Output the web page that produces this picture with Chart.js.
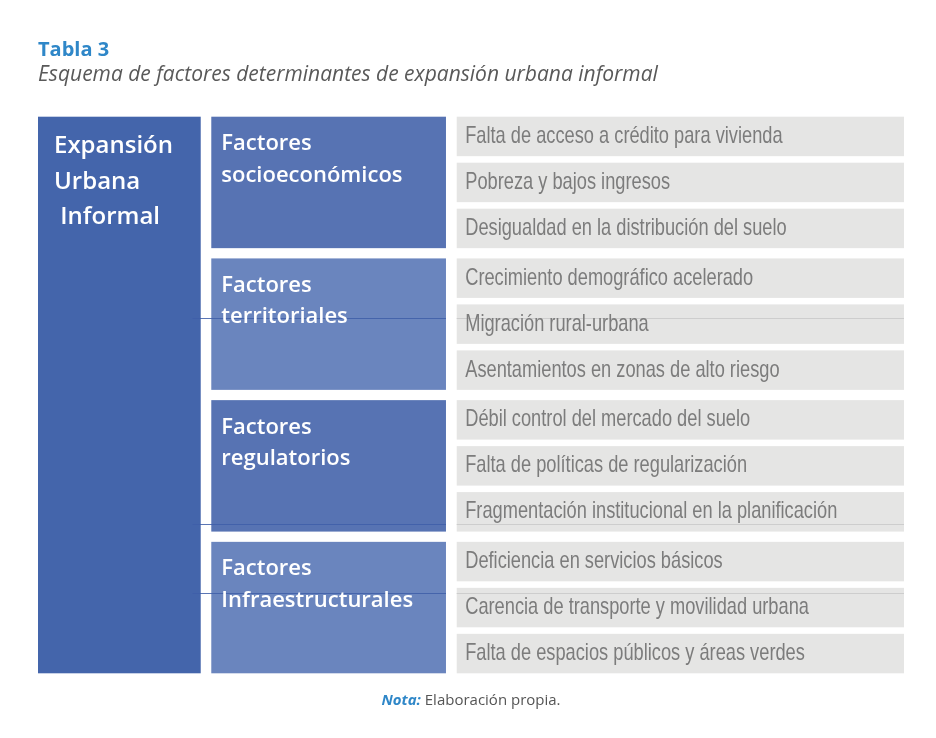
<!DOCTYPE html>
<html lang="es">
<head>
<meta charset="utf-8">
<title>Tabla 3</title>
<script src="https://cdn.jsdelivr.net/npm/chart.js@4.4.1/dist/chart.umd.min.js"></script>
<style>
  html, body { margin: 0; padding: 0; background: #fff; }
  #wrap { width: 936px; height: 738px; }
</style>
</head>
<body>
<div id="wrap"><canvas id="tabla" width="936" height="738"></canvas></div>
<script>
// --- contenido de la tabla ---
const tableTitle = 'Tabla 3';
const tableSubtitle = 'Esquema de factores determinantes de expansión urbana informal';
const rootLabel = ['Expansión', 'Urbana', ' Informal'];
const groupLabels = [
  ['Factores', 'socioeconómicos'],
  ['Factores', 'territoriales'],
  ['Factores', 'regulatorios'],
  ['Factores', 'Infraestructurales']
];
const factorLabels = [
  ['Falta de acceso a crédito para vivienda', 'Pobreza y bajos ingresos', 'Desigualdad en la distribución del suelo'],
  ['Crecimiento demográfico acelerado', 'Migración rural-urbana', 'Asentamientos en zonas de alto riesgo'],
  ['Débil control del mercado del suelo', 'Falta de políticas de regularización', 'Fragmentación institucional en la planificación'],
  ['Deficiencia en servicios básicos', 'Carencia de transporte y movilidad urbana', 'Falta de espacios públicos y áreas verdes']
];
const noteLabel = 'Nota:';
const noteText = 'Elaboración propia.';

// --- layout (rows in y-scale units, columns in % of table width) ---
const ROW_GAP = 0.165;
const GROUP_GAP = 0.26;
const COLS = { root: [0, 18.79], group: [20.01, 47.11], factor: [48.35, 100] };
const groupColors = ['#5773b3', '#6a85be', '#5773b3', '#6a85be'];
const rootColor = '#4465ab';
const cellColor = '#e5e5e4';
// faint seams visible in the source image: [group, row, fraction of row]
const seams = [[1, 1, 0.34], [2, 2, 0.81], [3, 1, 0.13]];

const rowsPerGroup = factorLabels[0].length;
const groupSpan = rowsPerGroup + (rowsPerGroup - 1) * ROW_GAP;
const rowStart = (g, i) => g * (groupSpan + GROUP_GAP) + i * (1 + ROW_GAP);
const totalSpan = rowStart(factorLabels.length - 1, rowsPerGroup - 1) + 1;

const tablePlugin = {
  id: 'tablePlugin',
  beforeDatasetsDraw(chart) {
    const { ctx, chartArea } = chart;
    const xs = chart.scales.x, ys = chart.scales.y;
    const box = (col, y0, y1, color) => {
      const l = xs.getPixelForValue(col[0]), r = xs.getPixelForValue(col[1]);
      const t = ys.getPixelForValue(y0), b = ys.getPixelForValue(y1);
      ctx.fillStyle = color;
      ctx.fillRect(l, t, r - l, b - t);
      return { l, t, r, b };
    };
    ctx.save();
    ctx.textBaseline = 'alphabetic';
    ctx.textAlign = 'left';

    // title + subtitle
    ctx.fillStyle = '#2f87c8';
    ctx.font = 'bold 20px "Open Sans"';
    ctx.fillText(tableTitle, chartArea.left, chartArea.top - 61);
    ctx.fillStyle = '#595959';
    ctx.font = 'italic 21px "Open Sans"';
    ctx.fillText(tableSubtitle, chartArea.left, chartArea.top - 36);

    // boxes first
    const root = box(COLS.root, 0, totalSpan, rootColor);
    const groupBoxes = [], cellBoxes = [];
    factorLabels.forEach((rows, g) => {
      groupBoxes.push(box(COLS.group, rowStart(g, 0), rowStart(g, rowsPerGroup - 1) + 1, groupColors[g]));
      rows.forEach((s, i) => cellBoxes.push([s, box(COLS.factor, rowStart(g, i), rowStart(g, i) + 1, cellColor)]));
    });

    // seams
    ctx.lineWidth = 1;
    seams.forEach(([g, i, f]) => {
      const yy = Math.round(ys.getPixelForValue(rowStart(g, i) + f)) + 0.5;
      ctx.strokeStyle = 'rgba(62, 94, 168, 0.85)';
      ctx.beginPath();
      ctx.moveTo(xs.getPixelForValue(COLS.root[1]) - 8, yy);
      ctx.lineTo(xs.getPixelForValue(COLS.group[1]), yy);
      ctx.stroke();
      ctx.strokeStyle = '#cdcdcd';
      ctx.beginPath();
      ctx.moveTo(xs.getPixelForValue(COLS.factor[0]), yy);
      ctx.lineTo(xs.getPixelForValue(COLS.factor[1]), yy);
      ctx.stroke();
    });

    // labels
    ctx.fillStyle = '#ffffff';
    ctx.font = '600 24px "Open Sans"';
    rootLabel.forEach((s, i) => ctx.fillText(s, root.l + 16, root.t + 36.6 + i * 35.3));

    ctx.font = '600 22px "Open Sans"';
    groupBoxes.forEach((gb, g) => {
      groupLabels[g].forEach((s, i) => ctx.fillText(s, gb.l + 10, gb.t + 33.5 + i * 31.5));
    });

    cellBoxes.forEach(([s, c]) => {
      ctx.save();
      ctx.fillStyle = '#7c7c7c';
      ctx.font = '24px "Liberation Sans"';
      ctx.translate(c.l + 8.5, c.t + 26.3);
      ctx.scale(0.76, 1);
      ctx.fillText(s, 0, 0);
      ctx.restore();
    });

    // note
    ctx.font = 'bold italic 15px "Open Sans"';
    const w1 = ctx.measureText(noteLabel + ' ').width;
    ctx.font = '15px "Open Sans"';
    const w2 = ctx.measureText(noteText).width;
    const nx = (chartArea.left + chartArea.right) / 2 - (w1 + w2) / 2;
    const ny = chartArea.bottom + 32;
    ctx.fillStyle = '#2f87c8';
    ctx.font = 'bold italic 15px "Open Sans"';
    ctx.fillText(noteLabel, nx, ny);
    ctx.fillStyle = '#555555';
    ctx.font = '15px "Open Sans"';
    ctx.fillText(noteText, nx + w1, ny);
    ctx.restore();
  }
};

new Chart(document.getElementById('tabla'), {
  type: 'scatter',
  data: { datasets: [] },
  options: {
    responsive: false,
    animation: false,
    layout: { padding: { left: 38, right: 32, top: 116.7, bottom: 64.7 } },
    scales: {
      x: { type: 'linear', min: 0, max: 100, display: false },
      y: { type: 'linear', min: 0, max: totalSpan, reverse: true, display: false }
    },
    plugins: { legend: { display: false }, tooltip: { enabled: false } }
  },
  plugins: [tablePlugin]
});
</script>
</body>
</html>
